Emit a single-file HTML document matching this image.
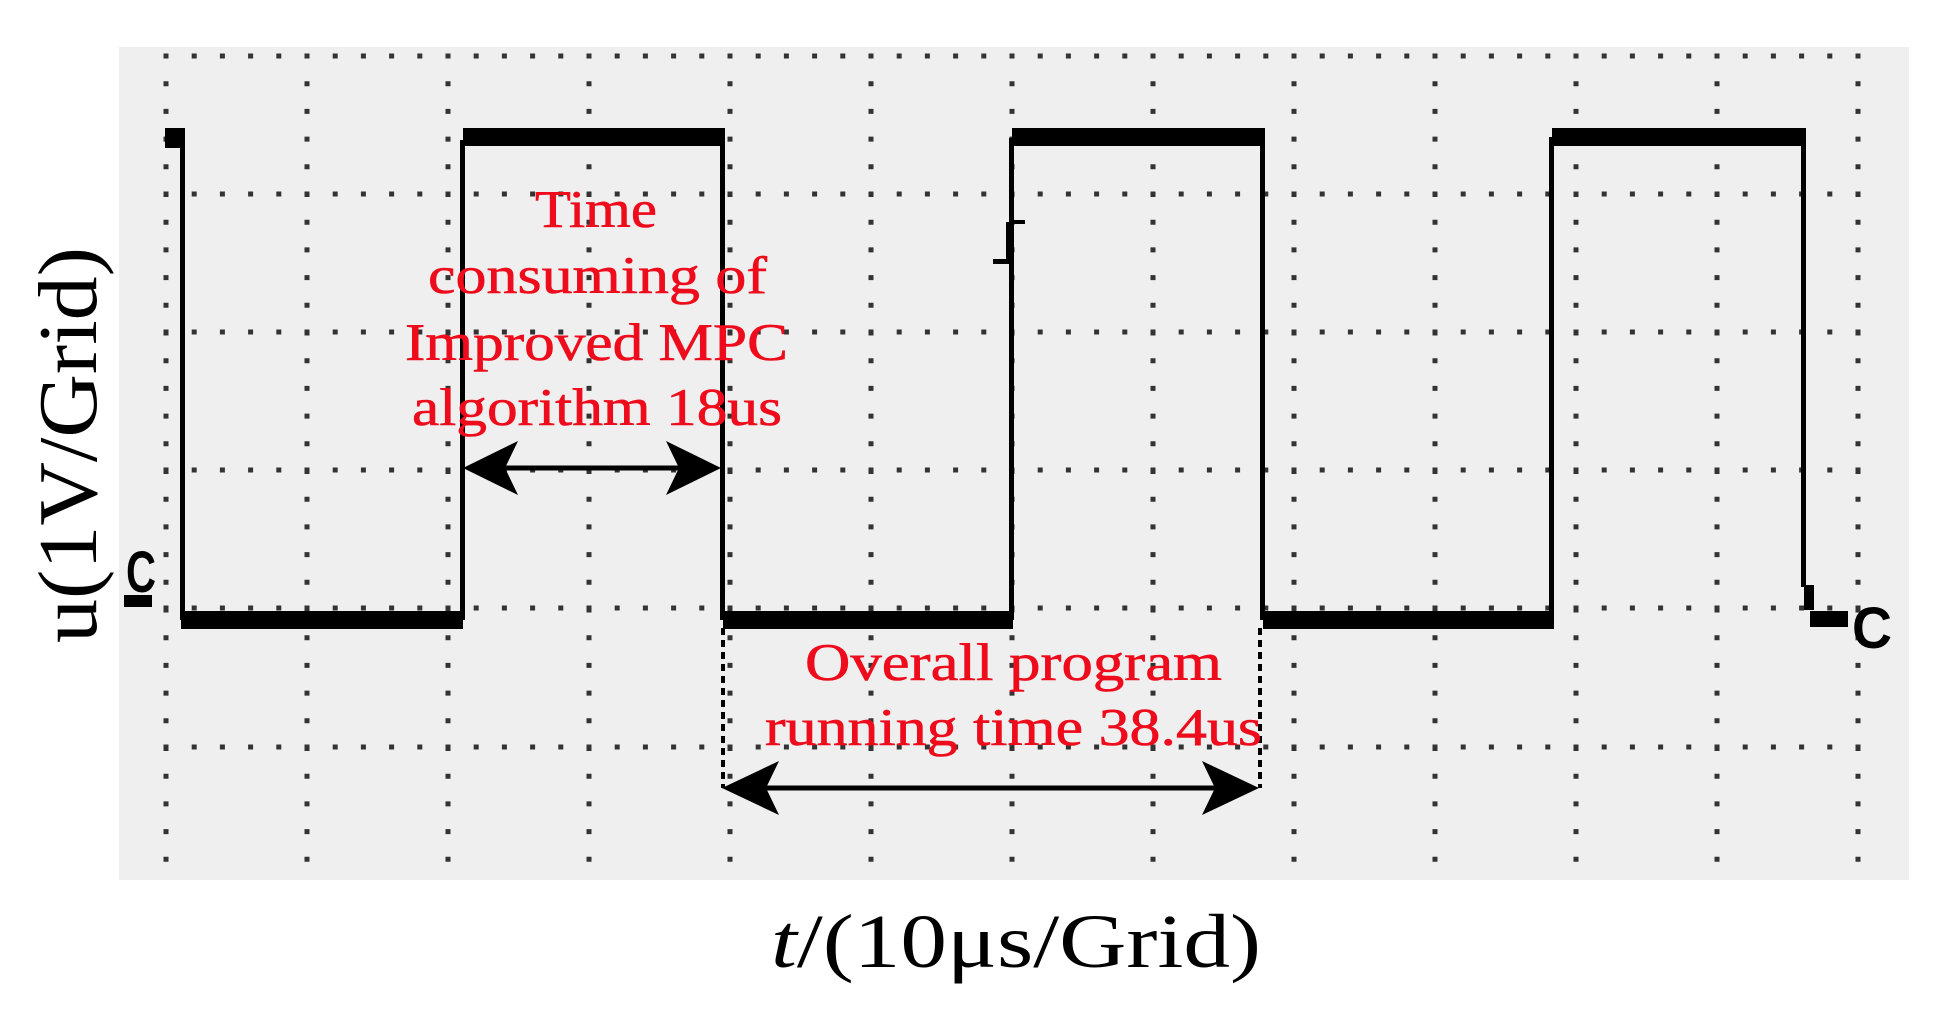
<!DOCTYPE html>
<html><head><meta charset="utf-8"><style>
html,body{margin:0;padding:0;background:#fff;}
svg{display:block;}
</style></head><body>
<svg width="1945" height="1013" viewBox="0 0 1945 1013" xmlns="http://www.w3.org/2000/svg">
<rect x="0" y="0" width="1945" height="1013" fill="#fff"/>
<rect x="119" y="47" width="1790" height="833" fill="#efefef"/>
<g stroke="#333" stroke-width="5" fill="none">
<g stroke-dasharray="5 22.7">
<line x1="166" y1="53.5" x2="166" y2="880"/>
<line x1="307" y1="53.5" x2="307" y2="880"/>
<line x1="448" y1="53.5" x2="448" y2="880"/>
<line x1="589" y1="53.5" x2="589" y2="880"/>
<line x1="730" y1="53.5" x2="730" y2="880"/>
<line x1="871" y1="53.5" x2="871" y2="880"/>
<line x1="1012" y1="53.5" x2="1012" y2="880"/>
<line x1="1153" y1="53.5" x2="1153" y2="880"/>
<line x1="1294" y1="53.5" x2="1294" y2="880"/>
<line x1="1435" y1="53.5" x2="1435" y2="880"/>
<line x1="1576" y1="53.5" x2="1576" y2="880"/>
<line x1="1717" y1="53.5" x2="1717" y2="880"/>
<line x1="1858" y1="53.5" x2="1858" y2="880"/>
</g>
<g stroke-dasharray="5 23.2">
<line x1="163.5" y1="56" x2="1870" y2="56"/>
<line x1="163.5" y1="194" x2="1870" y2="194"/>
<line x1="163.5" y1="332" x2="1870" y2="332"/>
<line x1="163.5" y1="470" x2="1870" y2="470"/>
<line x1="163.5" y1="608" x2="1870" y2="608"/>
<line x1="163.5" y1="747" x2="1870" y2="747"/>
</g>
</g>
<g fill="#000">
<rect x="165" y="128" width="20" height="20"/>
<rect x="180" y="130" width="5" height="490"/>
<rect x="181" y="611" width="282" height="18"/>
<rect x="460" y="140" width="5" height="480"/>
<rect x="463" y="128" width="262" height="18"/>
<rect x="720" y="137" width="5" height="483"/>
<rect x="723" y="611" width="290" height="18"/>
<rect x="1009" y="138" width="5" height="482"/>
<rect x="1012" y="128" width="253" height="18"/>
<rect x="1260" y="137" width="5" height="483"/>
<rect x="1263" y="611" width="291" height="18"/>
<rect x="1549" y="137" width="5" height="483"/>
<rect x="1552" y="128" width="254" height="18"/>
<rect x="1801" y="137" width="5" height="450"/>
<rect x="1804" y="585" width="10" height="25"/>
<rect x="1810" y="611" width="38" height="16"/>
<rect x="1006" y="222" width="5" height="42"/>
<rect x="1011" y="220" width="14" height="4"/>
<rect x="993" y="259" width="14" height="5"/>
<rect x="124" y="595" width="28" height="12"/>
</g>
<text x="126" y="592" font-family="Liberation Sans, sans-serif" font-weight="bold" font-size="58" textLength="30" lengthAdjust="spacingAndGlyphs" fill="#000">C</text>
<text x="1852" y="648" font-family="Liberation Sans, sans-serif" font-weight="bold" font-size="58" textLength="40" lengthAdjust="spacingAndGlyphs" fill="#000">C</text>
<g fill="#000" stroke="#000">
<line x1="500" y1="468" x2="690" y2="468" stroke-width="5"/>
<polygon points="463,468 518,441 505,468 518,495" stroke="none"/>
<polygon points="721,468 666,441 679,468 666,495" stroke="none"/>
<line x1="760" y1="788" x2="1220" y2="788" stroke-width="5"/>
<polygon points="722,788 779,761 766,788 779,815" stroke="none"/>
<polygon points="1259,788 1202,761 1215,788 1202,815" stroke="none"/>
</g>
<g stroke="#000" stroke-width="4" stroke-dasharray="7 5">
<line x1="723" y1="628" x2="723" y2="788"/>
<line x1="1260" y1="628" x2="1260" y2="788"/>
</g>
<g font-family="Liberation Serif, serif" font-size="53" fill="#ee0c1c" stroke="#ee0c1c" stroke-width="0.6">
<text x="535" y="227" textLength="122" lengthAdjust="spacingAndGlyphs">Time</text>
<text x="428" y="293" textLength="339" lengthAdjust="spacingAndGlyphs">consuming of</text>
<text x="405" y="360" textLength="383" lengthAdjust="spacingAndGlyphs">Improved MPC</text>
<text x="412" y="425" textLength="370" lengthAdjust="spacingAndGlyphs">algorithm 18us</text>
<text x="805" y="680" textLength="417" lengthAdjust="spacingAndGlyphs">Overall program</text>
<text x="765" y="745" textLength="497" lengthAdjust="spacingAndGlyphs">running time 38.4us</text>
</g>
<text x="771" y="967" font-family="Liberation Serif, serif" font-size="76" fill="#000" textLength="490" lengthAdjust="spacingAndGlyphs"><tspan font-style="italic">t</tspan>/(10μs/Grid)</text>
<text transform="translate(96,643) rotate(-90)" font-family="Liberation Serif, serif" font-size="84" fill="#000" textLength="396" lengthAdjust="spacingAndGlyphs">u(1V/Grid)</text>
</svg>
</body></html>
